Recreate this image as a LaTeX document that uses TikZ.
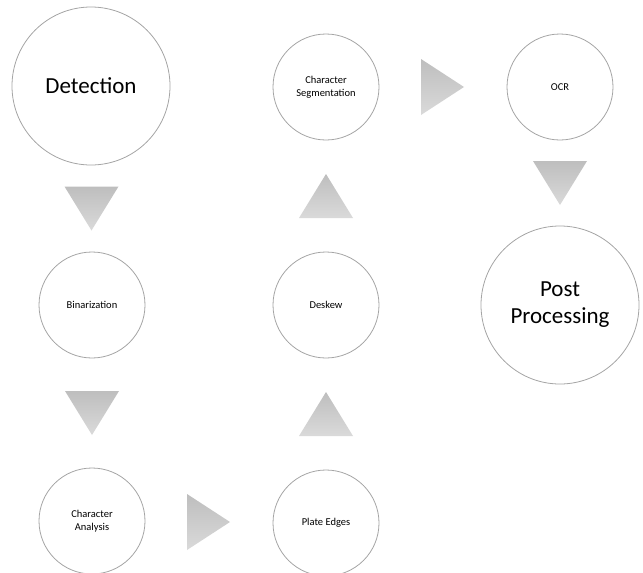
\documentclass[tikz,border=0pt]{standalone}
\usepackage{fontspec}
\setmainfont{Carlito}
\usetikzlibrary{calc}
\definecolor{ringgray}{RGB}{165,165,165}
\definecolor{tritop}{RGB}{190,190,190}
\definecolor{tribot}{RGB}{218,218,218}
\tikzset{
	stage/.style={circle, draw=ringgray, line width=0.8pt, fill=white, inner sep=0pt, align=center, text=black},
	bigstage/.style={stage, minimum size=158pt, font=\fontsize{23}{27}\selectfont},
	smallstage/.style={stage, minimum size=106pt, font=\fontsize{10.5}{13}\selectfont},
	tri/.style={top color=tritop, bottom color=tribot, draw=none}
}
\def\tridown(#1){\shade[tri] ($(#1)+(-27,-22)$) -- ($(#1)+(27,-22)$) -- ($(#1)+(0,22)$) -- cycle;}
\def\triup(#1){\shade[tri] ($(#1)+(-27,22)$) -- ($(#1)+(27,22)$) -- ($(#1)+(0,-22)$) -- cycle;}
\def\triright(#1){\shade[tri] ($(#1)+(-22,-28)$) -- ($(#1)+(-22,28)$) -- ($(#1)+(21,0)$) -- cycle;}
\begin{document}
\begin{tikzpicture}[x=1pt, y=-1pt]
	\useasboundingbox (0,0) rectangle (643,573);
	
	%%%%% STAGES %%%%%
	\node[bigstage] (det) at (91, 86) {Detection};
	\node[smallstage] (bin) at (92, 305) {Binarization};
	\node[smallstage] (ca) at (92, 521) {Character\\Analysis};
	\node[smallstage] (pe) at (326, 523) {Plate Edges};
	\node[smallstage] (desk) at (326, 305) {Deskew};
	\node[smallstage] (cs) at (326, 87) {Character\\Segmentation};
	\node[smallstage] (ocr) at (560, 87) {OCR};
	\node[bigstage] (pp) at (560, 305) {Post\\Processing};
	
	%%%%% ARROWS %%%%%
	\coordinate (m1) at ($(det.south)!0.5!(bin.north)$);
	\coordinate (m2) at ($(bin.south)!0.5!(ca.north)$);
	\coordinate (m3) at ($(ca.east)!0.5!(pe.west)$);
	\coordinate (m4) at ($(pe.north)!0.5!(desk.south)$);
	\coordinate (m5) at ($(desk.north)!0.5!(cs.south)$);
	\coordinate (m6) at ($(cs.east)!0.5!(ocr.west)$);
	\coordinate (m7) at ($(ocr.south)!0.5!(pp.north)$);
	
	\tridown(m1)
	\tridown(m2)
	\triright(m3)
	\triup(m4)
	\triup(m5)
	\triright(m6)
	\tridown(m7)
\end{tikzpicture}
\end{document}
